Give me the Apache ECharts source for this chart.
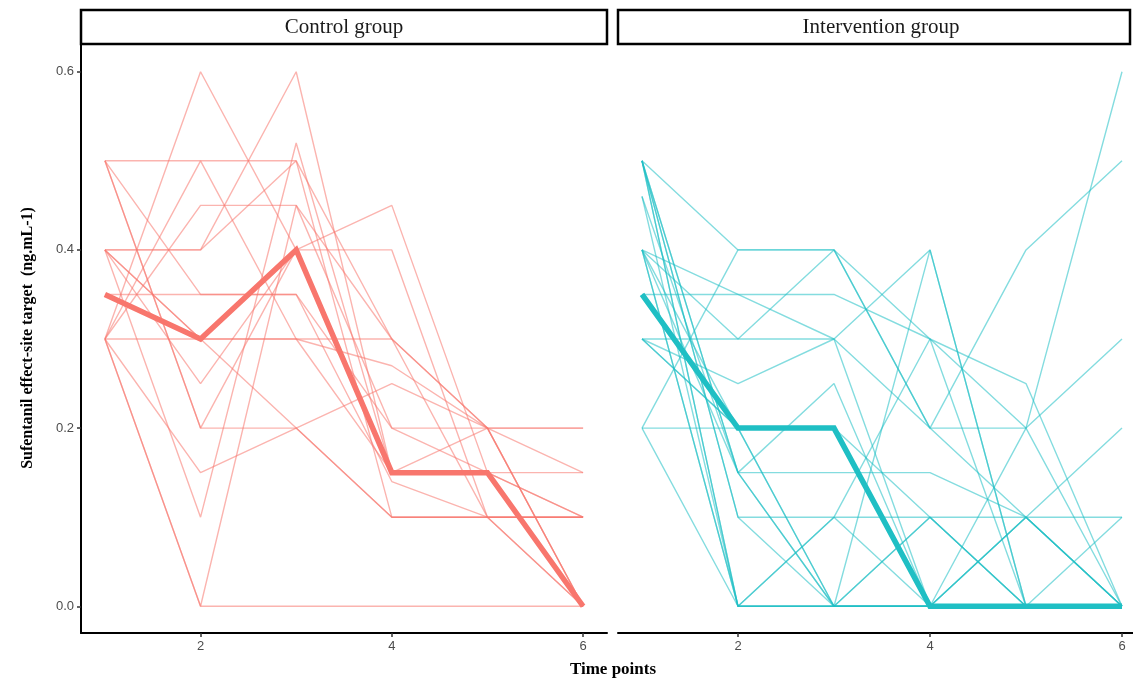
<!doctype html>
<html lang="en">

<head>
    <meta charset="UTF-8">
    <title>Sufentanil</title>
    <style>
        html, body { margin: 0; padding: 0; background: #fff; }
    </style>
</head>

<body>
    <div id="main" style="width: 1133px;height:683px;"></div>
    <script src="https://cdn.jsdelivr.net/npm/echarts@6/dist/echarts.min.js"></script>
    <script>
        // time points 1..6
        var timePoints = [1, 2, 3, 4, 5, 6];
        var panelNames = ['Control group', 'Intervention group'];
        var xTicks = [2, 4, 6];
        var yTicks = [0, 0.2, 0.4, 0.6];

        // individual patients, control group
        var controlSubjects = [
            [0.30, 0.60, 0.40, 0.40, 0.10, 0.10],
            [0.50, 0.50, 0.50, 0.30, 0.20, 0.00],
            [0.40, 0.40, 0.60, 0.15, 0.15, 0.15],
            [0.30, 0.00, 0.00, 0.00, 0.00, 0.00],
            [0.30, 0.30, 0.30, 0.30, 0.20, 0.20],
            [0.50, 0.20, 0.20, 0.10, 0.10, 0.10],
            [0.40, 0.10, 0.52, 0.15, 0.15, 0.00],
            [0.30, 0.45, 0.45, 0.20, 0.20, 0.00],
            [0.50, 0.35, 0.35, 0.14, 0.10, 0.00],
            [0.40, 0.25, 0.40, 0.45, 0.15, 0.10],
            [0.30, 0.15, 0.20, 0.25, 0.20, 0.00],
            [0.35, 0.35, 0.35, 0.20, 0.15, 0.00],
            [0.40, 0.40, 0.50, 0.10, 0.10, 0.10],
            [0.30, 0.50, 0.30, 0.15, 0.15, 0.10],
            [0.40, 0.30, 0.30, 0.27, 0.20, 0.15],
            [0.50, 0.20, 0.40, 0.15, 0.20, 0.20],
            [0.30, 0.00, 0.45, 0.30, 0.10, 0.00],
            [0.40, 0.30, 0.20, 0.10, 0.10, 0.10]
        ];
        var controlMedian = [0.35, 0.30, 0.40, 0.15, 0.15, 0.00];

        // individual patients, intervention group
        var interventionSubjects = [
            [0.50, 0.40, 0.40, 0.30, 0.25, 0.00],
            [0.20, 0.40, 0.40, 0.20, 0.40, 0.50],
            [0.50, 0.00, 0.00, 0.00, 0.20, 0.60],
            [0.35, 0.35, 0.35, 0.30, 0.00, 0.00],
            [0.40, 0.35, 0.30, 0.40, 0.00, 0.00],
            [0.30, 0.25, 0.30, 0.20, 0.20, 0.30],
            [0.30, 0.30, 0.30, 0.00, 0.00, 0.00],
            [0.20, 0.20, 0.00, 0.10, 0.00, 0.00],
            [0.50, 0.10, 0.10, 0.10, 0.10, 0.10],
            [0.46, 0.15, 0.15, 0.15, 0.10, 0.00],
            [0.40, 0.00, 0.00, 0.00, 0.00, 0.00],
            [0.50, 0.15, 0.25, 0.00, 0.10, 0.20],
            [0.30, 0.20, 0.00, 0.00, 0.00, 0.00],
            [0.40, 0.20, 0.20, 0.10, 0.00, 0.10],
            [0.20, 0.00, 0.00, 0.00, 0.00, 0.00],
            [0.46, 0.00, 0.10, 0.30, 0.20, 0.00],
            [0.40, 0.30, 0.40, 0.20, 0.10, 0.00],
            [0.50, 0.10, 0.00, 0.40, 0.00, 0.00],
            [0.30, 0.20, 0.20, 0.00, 0.10, 0.00],
            [0.50, 0.00, 0.10, 0.00, 0.00, 0.00],
            [0.50, 0.15, 0.00, 0.00, 0.10, 0.00],
            [0.40, 0.15, 0.00, 0.10, 0.00, 0.00],
            [0.40, 0.00, 0.00, 0.00, 0.00, 0.00]
        ];
        var interventionMedian = [0.35, 0.20, 0.20, 0.00, 0.00, 0.00];

        var colors = ['#F8766D', '#1FBFC4'];

        function toPoints(values) {
            return values.map(function (v, i) { return [timePoints[i], v]; });
        }

        function buildSeries(subjects, median, idx) {
            var out = subjects.map(function (s) {
                return {
                    type: 'line',
                    xAxisIndex: idx,
                    yAxisIndex: idx,
                    data: toPoints(s),
                    showSymbol: false,
                    silent: true,
                    lineStyle: { color: colors[idx], width: 1.4, opacity: 0.55 },
                    z: 2
                };
            });
            out.push({
                type: 'line',
                xAxisIndex: idx,
                yAxisIndex: idx,
                data: toPoints(median),
                showSymbol: false,
                silent: true,
                lineStyle: { color: colors[idx], width: 5.5, opacity: 1, join: 'miter' },
                z: 3
            });
            return out;
        }

        var serifFont = '"Liberation Serif", "DejaVu Serif", serif';
        var sansFont = '"Liberation Sans", Arial, sans-serif';

        function xAxisFor(idx) {
            return {
                type: 'value',
                gridIndex: idx,
                min: 0.75,
                max: 6.25,
                splitLine: { show: false },
                axisLine: { onZero: false, lineStyle: { color: '#000', width: 2 } },
                axisTick: { customValues: xTicks, length: 4, lineStyle: { color: '#333', width: 1.5 } },
                axisLabel: { customValues: xTicks, color: '#4d4d4d', fontFamily: sansFont, fontSize: 13, margin: 7 }
            };
        }

        function yAxisFor(idx) {
            var left = idx === 0;
            return {
                type: 'value',
                gridIndex: idx,
                min: -0.03,
                max: 0.63,
                splitLine: { show: false },
                axisLine: { show: left, onZero: false, lineStyle: { color: '#000', width: 2 } },
                axisTick: { show: left, customValues: yTicks, length: 4, lineStyle: { color: '#333', width: 1.5 } },
                axisLabel: {
                    show: left, customValues: yTicks, color: '#4d4d4d', fontFamily: sansFont, fontSize: 13, margin: 7,
                    formatter: function (v) { return v.toFixed(1); }
                }
            };
        }

        var myChart = echarts.init(document.getElementById('main'));

        var option = {
            animation: false,
            backgroundColor: '#fff',
            grid: [
                { left: 81, top: 45, width: 526, height: 588, outerBoundsMode: 'none', containLabel: false },
                { left: 618, top: 45, width: 528, height: 588, outerBoundsMode: 'none', containLabel: false }
            ],
            xAxis: [xAxisFor(0), xAxisFor(1)],
            yAxis: [yAxisFor(0), yAxisFor(1)],
            series: buildSeries(controlSubjects, controlMedian, 0)
                .concat(buildSeries(interventionSubjects, interventionMedian, 1)),
            graphic: [
                // facet strips
                {
                    type: 'rect', shape: { x: 81, y: 10, width: 526, height: 34 },
                    style: { fill: '#fff', stroke: '#000', lineWidth: 2.5 }
                },
                {
                    type: 'text', x: 344, y: 27,
                    style: { text: panelNames[0], font: '21px ' + serifFont, fill: '#1a1a1a', align: 'center', verticalAlign: 'middle' }
                },
                {
                    type: 'rect', shape: { x: 618, y: 10, width: 512, height: 34 },
                    style: { fill: '#fff', stroke: '#000', lineWidth: 2.5 }
                },
                {
                    type: 'text', x: 881, y: 27,
                    style: { text: panelNames[1], font: '21px ' + serifFont, fill: '#1a1a1a', align: 'center', verticalAlign: 'middle' }
                },
                // axis titles
                {
                    type: 'text', x: 28, y: 338, rotation: Math.PI / 2,
                    style: {
                        text: 'Sufentanil effect-site target  (ng.mL-1)',
                        font: 'bold 16px ' + serifFont, fill: '#000', align: 'center', verticalAlign: 'middle'
                    }
                },
                {
                    type: 'text', x: 613, y: 670,
                    style: { text: 'Time points', font: 'bold 17px ' + serifFont, fill: '#000', align: 'center', verticalAlign: 'middle' }
                }
            ]
        };

        myChart.setOption(option);
    </script>
</body>

</html>
